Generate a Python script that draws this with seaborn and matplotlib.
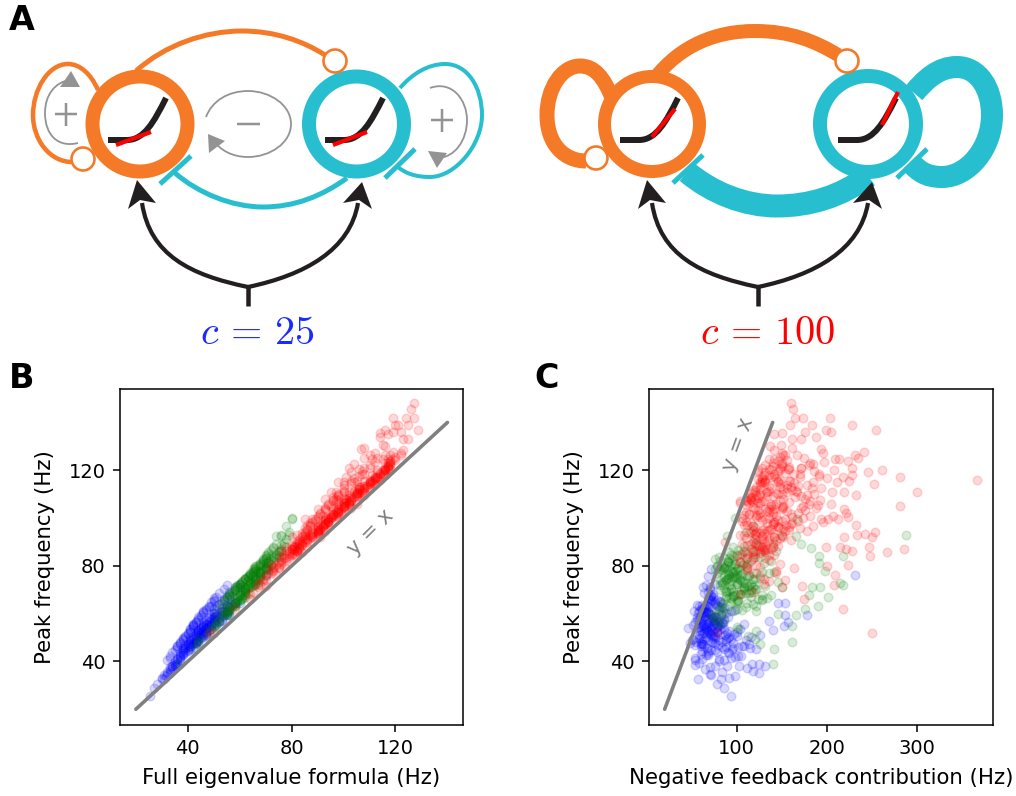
import matplotlib
matplotlib.use("Agg")
import matplotlib.pyplot as plt
import numpy as np
import seaborn as sns
from matplotlib.patches import Circle, PathPatch, Polygon
from matplotlib.path import Path

sns.set_style("ticks", rc={"axes.edgecolor": "black", "xtick.color": "black", "ytick.color": "black",
                           "axes.labelcolor": "black", "text.color": "black"})
plt.rcParams["font.family"] = ["DejaVu Sans"]
plt.rcParams["mathtext.fontset"] = "cm"

# Panels B and C share the peak frequency of each simulated network
blue_peak = [25.5, 32.6, 32.6, 34, 35, 38, 39, 39, 38, 38,
             37, 34.7, 38.6, 76, 59.6, 59.6, 64.5, 64.5, 57, 53,
             51, 45, 45.6, 54.7, 56.5, 54, 47.7, 61, 63.8, 75.7,
             71, 78.5, 40.7,
             47.3, 52.8, 58.1, 63.4, 49.6, 55.2, 60.7, 44.9, 53.5, 66.2,
             51.1, 57.4, 46.8, 61.9, 54.3, 48.7, 69.1, 43.2, 59.5, 56.6,
             50.4, 62.8, 45.5, 53.9, 58.8, 67.4, 41.6, 49.1, 55.8, 64.7,
             52.2, 47.9, 60.2, 56.1, 71.3, 42.8, 50.7, 54.7, 63.1, 46.2,
             58.4, 51.6, 65.6, 44.1, 57.8, 49.9, 61.3, 53.1, 39.4, 55.5,
             48.3, 59.9, 52.5, 68.3, 45.9, 56.9, 50.1, 62.4, 43.7, 54.1,
             60.6, 47.1, 64.1, 51.9, 57.1, 41.1, 55.1, 49.3, 66.9, 53.7,
             46.5, 58.6, 61.5, 44.5, 52.9, 50.9, 72.6, 56.4, 48.1, 63.8,
             37.4, 54.9, 59.2, 47.6, 65.1, 42.3, 51.3, 57.6, 49.5, 60.1,
             36.2, 53.3, 45.1, 62.2, 55.9, 40.2, 48.9, 58.9, 52.1, 46.9,
             50.2, 54.4, 57.3, 48.4, 52.4, 55.4, 59.1, 61.2, 46.4, 53.2,
             56.2, 49.2, 51.4, 58.2, 60.4, 47.4, 54.6, 62.6, 50.6, 55.6,
             44.4, 57.2, 52.6, 63.6, 48.6, 59.6, 42.6, 67.6, 51.8, 56.8,
             38.2, 40.9, 43.4, 35.6, 37.8, 41.9, 34.4, 30.6, 33.2, 28.8,
             53.8, 49.8, 60.8, 47.8, 55.2, 58.3, 45.3, 64.3, 51.2, 46.1,
             55.3, 60.3, 48.2, 52.7, 65.3, 68.6, 57.9, 62.1, 50.8, 45.7,
             63.2, 58.7, 53.4, 47.2, 66.4, 70.4, 60.9, 55.7, 49.4, 44.7,
             61.6, 56.3, 51.7, 46.3, 58.5, 64.9, 42.1, 53.6, 67.1, 72.1,
             49.7, 54.2, 59.4, 43.9, 62.9, 56.7, 47.7, 51.6, 65.9, 40.4,
             55.1, 48.8, 52.3, 60.5, 57.5, 46.6, 41.4, 50.3, 54.8, 63.3]
blue_full = [25.5, 30, 31, 31.5, 33, 34, 36, 35, 35, 36,
             33, 32, 35, 70, 56, 55, 60, 58, 53, 48,
             47, 41, 43, 50, 52, 47, 43, 53, 55, 65,
             60, 70, 37,
             41, 45, 48, 55, 42, 46, 55, 40, 45, 54,
             44, 47, 39, 50, 48, 44, 56, 38, 53, 46,
             45, 56, 38, 45, 49, 57, 37, 41, 47, 58,
             44, 43, 50, 50, 58, 38, 42, 49, 51, 39,
             50, 47, 54, 39, 49, 41, 55, 44, 36, 51,
             43, 50, 47, 56, 40, 50, 46, 53, 37, 47,
             53, 40, 52, 45, 52, 36, 48, 42, 55, 49,
             41, 52, 56, 40, 46, 43, 60, 48, 42, 57,
             34, 46, 51, 42, 54, 37, 46, 50, 43, 55,
             33, 47, 38, 52, 50, 35, 44, 51, 44, 40,
             43, 46, 53, 41, 47, 49, 50, 54, 41, 44,
             49, 44, 45, 52, 51, 42, 46, 56, 44, 47,
             38, 51, 44, 57, 43, 54, 37, 61, 44, 48,
             34, 36, 38, 32, 33, 37, 31, 28, 30, 27,
             47, 45, 54, 41, 47, 50, 39, 58, 46, 41,
             42, 46, 37, 41, 50, 52, 44, 47, 39, 36,
             48, 45, 41, 37, 50, 54, 46, 42, 38, 35,
             47, 43, 40, 36, 44, 49, 33, 41, 51, 55,
             38, 42, 45, 34, 48, 43, 37, 40, 50, 32,
             42, 38, 41, 46, 44, 36, 33, 39, 42, 49]
blue_neg = [94, 57, 83, 98, 125, 132, 125, 117, 103, 89,
            65, 70, 54, 231, 178, 154, 146, 154, 136, 140,
            126, 122, 115, 153, 157, 46, 48, 53, 56, 68.5,
            63, 72, 54,
            62, 68, 73, 78, 58, 74, 64, 72, 86, 70,
            71, 56, 79, 60, 66, 88, 68, 60, 83, 75,
            92, 64, 67, 76, 59, 72, 54, 80, 62, 82,
            69, 96, 57, 85, 70, 66, 74, 63, 68, 102,
            77, 61, 72, 78, 80, 90, 58, 67, 58, 84,
            55, 70, 100, 74, 84, 60, 76, 65, 91, 57,
            66, 63, 76, 89, 71, 62, 64, 94, 70, 82,
            108, 75, 80, 68, 58, 87, 76, 69, 73, 62,
            112, 79, 65, 74, 82, 105, 97, 58, 52, 88,
            118, 60, 95, 86, 75, 80, 110, 64, 67, 54,
            66, 72, 70, 62, 74, 68, 76, 66, 60, 72,
            68, 64, 70, 74, 64, 60, 78, 70, 76, 66,
            62, 60, 78, 66, 70, 72, 68, 72, 64, 80,
            76, 80, 68, 84, 70, 98, 72, 78, 92, 86,
            64, 74, 68, 76, 82, 62, 86, 70, 58, 88,
            78, 66, 84, 92, 72, 64, 86, 62, 100, 96,
            80, 90, 104, 114, 68, 70, 94, 108, 88, 76,
            98, 84, 72, 64, 56, 76, 102, 66, 74, 66,
            60, 58, 62, 90, 84, 54, 60, 82, 78, 86,
            52, 50, 78, 68, 74, 106, 94, 116, 60, 58]

green_peak = [93, 84, 84, 81, 78, 73, 72, 71, 71, 68,
              67, 63, 62, 59.6, 48, 45, 39, 55, 60, 61,
              50.5, 99.4, 92.5, 89, 87.5, 100, 92.5, 82.7, 80, 78,
              69.4, 74.2, 80.6, 64.3, 77.8, 71.1, 83.9, 66.7, 76.4, 60.9,
              72.8, 67.3, 79.2, 85.6, 62.4, 75.1, 70.2, 81.7, 57.6, 73.6,
              68.9, 78.3, 65.2, 88.2, 74.8, 71.9, 63.4, 82.8, 76.9, 59.3,
              80.1, 69.8, 66.1, 84.7, 72.2, 77.3, 61.6, 74.1, 86.9, 67.9,
              91.2, 70.8, 75.6, 64.9, 78.9, 56.4, 81.1, 68.3, 83.2, 73.2,
              65.8, 79.8, 71.6, 60.1, 76.1, 85.1, 69.1, 62.9, 74.6, 77.1,
              88.9, 67.1, 72.9, 81.9, 58.7, 75.9, 70.4, 64.6, 79.4, 83.6,
              54.2, 66.6, 73.9, 78.6, 61.1, 68.6, 71.3, 86.1, 76.6, 63.1,
              94.3, 69.6, 77.6, 74.4, 80.9, 65.6, 72.4, 59.8, 82.2, 67.6,
              75.3, 70.9, 64.1, 78.1, 68.1, 73.1, 61.9, 84.2, 66.3, 71.7,
              96.6, 52.8, 89.6, 57.1, 49.4, 53.6, 86.4, 92.8, 47.2, 55.8,
              70.6, 74.9, 78.7, 82.4, 67.2, 72.6, 76.2, 80.4, 84.4, 68.4,
              73.4, 77.4, 81.4, 69.9, 75.4, 79.7, 83.1, 66.4, 71.4, 74.7,
              78.2, 85.9, 63.9, 70.1, 76.7, 81.2, 72.1, 67.7, 75.8, 79.1,
              73.7, 69.2, 77.2, 83.4, 65.4, 71.2, 80.2, 74.3, 68.7, 86.6,
              72.3, 76.3, 78.8, 70.3, 82.1, 64.4, 74.5, 67.4, 79.9, 75.2,
              61.4, 71.8, 77.9, 69.7, 84.9, 73.3, 66.9, 80.8, 76.8, 87.7]
green_full = [76, 72, 70, 70, 69, 65, 66, 62, 64, 60,
              62, 58, 55, 56, 44, 42, 37, 51, 55, 54,
              47, 80, 74, 74, 73, 80, 76, 69, 68, 66,
              62, 66, 69, 58, 67, 60, 73, 61, 70, 55,
              64, 59, 70, 75, 56, 67, 62, 71, 52, 66,
              62, 71, 59, 77, 64, 65, 57, 72, 68, 54,
              72, 62, 59, 75, 66, 67, 56, 63, 76, 60,
              78, 62, 68, 58, 70, 51, 71, 62, 74, 64,
              60, 70, 63, 54, 66, 74, 62, 57, 68, 68,
              76, 61, 66, 73, 53, 68, 62, 59, 71, 75,
              50, 59, 67, 69, 56, 63, 64, 76, 68, 58,
              79, 61, 68, 66, 72, 60, 64, 55, 71, 62,
              68, 63, 58, 71, 60, 67, 56, 74, 61, 65,
              78, 48, 77, 52, 44, 49, 75, 79, 44, 51,
              58, 62, 65, 69, 56, 60, 64, 68, 70, 56,
              61, 65, 69, 58, 63, 66, 70, 55, 59, 62,
              66, 71, 53, 58, 64, 68, 60, 56, 63, 66,
              61, 57, 65, 70, 54, 59, 67, 62, 57, 72,
              60, 64, 66, 58, 69, 53, 62, 56, 66, 63,
              51, 59, 65, 58, 71, 61, 55, 68, 64, 73]
green_neg = [288, 218, 191, 191, 198, 215, 218, 193, 184, 180,
             202, 190, 176, 165.5, 162, 141, 140, 161, 146, 122,
             113, 167, 166, 172, 183, 98, 89, 76, 78, 80,
             92, 104, 112, 84, 98, 118, 126, 88, 106, 76,
             110, 96, 86, 132, 80, 100, 122, 90, 74, 94,
             116, 84, 102, 108, 126, 82, 90, 118, 136, 72,
             78, 105, 124, 94, 100, 142, 84, 88, 116, 128,
             120, 86, 112, 94, 100, 78, 130, 106, 92, 146,
             102, 88, 132, 86, 114, 120, 96, 110, 90, 78,
             124, 92, 108, 138, 76, 94, 120, 100, 86, 80,
             100, 134, 82, 76, 96, 114, 150, 108, 90, 122,
             110, 88, 128, 104, 98, 128, 116, 84, 82, 138,
             96, 108, 118, 90, 102, 84, 100, 96, 128, 114,
             118, 122, 140, 86, 120, 102, 144, 150, 126, 80,
             94, 90, 102, 96, 88, 100, 92, 106, 100, 104,
             86, 96, 90, 108, 98, 84, 110, 94, 112, 88,
             104, 92, 84, 116, 100, 108, 92, 98, 114, 88,
             106, 88, 96, 86, 100, 108, 94, 118, 110, 102,
             84, 104, 82, 94, 90, 112, 120, 96, 110, 86,
             106, 120, 94, 82, 104, 100, 116, 98, 122, 96]

red_peak = [148, 145.6, 141.7, 142, 142, 139, 139, 139, 137, 135,
            135.5, 136, 137, 136, 133, 134, 133, 130.5, 130, 129.5,
            129, 127.7, 126.4, 127.4, 126.4, 126.4, 124.6, 124.5, 124.5, 124,
            125, 123.5, 123, 122.5, 121, 120.4, 121, 120.4, 121, 120,
            119.4, 120, 118.6, 118, 117, 117, 116, 115, 115, 115.5,
            114.4, 115, 115.5, 115, 112.7, 111, 111, 111, 109.5, 111,
            111, 111, 107.5, 106, 105, 107, 105, 108, 104.3, 103.6,
            101, 102, 100.4, 99.4, 98.5, 99.4, 96.6, 94.5, 97, 93,
            93.3, 94, 92, 92, 88, 88, 87, 86.4, 88, 86,
            87, 84, 80.5, 80, 76, 72, 71.5, 66, 62, 52,
            90, 107, 52,
            103.4, 111.2, 96.7, 118.3, 88.6, 107.1, 99.2, 114.6, 92.4, 121.7,
            84.9, 105.8, 116.1, 94.3, 109.7, 101.6, 124.2, 90.1, 112.9, 97.8,
            86.3, 119.6, 104.2, 93.1, 110.4, 81.7, 100.3, 115.9, 95.6, 106.9,
            122.9, 89.4, 108.2, 98.4, 117.3, 91.8, 103.1, 113.1, 83.6, 101.9,
            95.2, 120.8, 106.3, 87.7, 111.7, 99.9, 116.8, 78.4, 104.9, 93.8,
            109.2, 126.3, 97.1, 85.4, 113.8, 102.4, 119.1, 90.8, 107.8, 74.6,
            100.9, 117.9, 94.9, 110.9, 88.1, 105.3, 123.1, 98.9, 82.6, 114.1,
            92.9, 108.8, 103.8, 69.2, 118.9, 96.2, 112.2, 86.8, 101.2, 121.2,
            107.4, 91.1, 115.3, 99.6, 128.4, 84.2, 105.1, 94.1, 110.1, 79.7,
            116.4, 97.4, 102.9, 89.9, 120.2, 113.4, 93.6, 106.1, 76.8, 100.6,
            111.8, 87.2, 104.6, 124.9, 98.2, 118.6, 92.1, 108.4, 83.1, 95.9,
            114.9, 101.4, 72.4, 109.9, 122.2, 90.4, 106.7, 96.9, 117.1, 86.1,
            103.9, 112.6, 127.1, 94.6, 100.1, 119.9, 88.9, 107.6, 80.9, 115.1,
            98.1, 110.6, 91.4, 105.6, 123.9, 85.1, 113.6, 102.1, 96.4, 68.1,
            108.1, 117.6, 93.3, 101.1, 120.7, 89.1, 111.1, 99.1, 77.9, 104.4,
            115.6, 95.1, 106.4, 125.6, 87.4, 109.4, 97.6, 112.1, 82.1, 102.6,
            118.1, 91.6, 105.9, 100.4, 121.9, 94.4, 110.6, 86.6, 107.2, 74.1,
            113.2, 98.6, 103.6, 116.2, 89.6, 96.1, 120.4, 108.7, 84.6, 101.7,
            111.9, 93.9, 106.2, 119.2, 99.4, 87.9, 114.2, 104.7, 92.2, 71.2,
            109.6, 117.2, 97.3, 122.6, 102.7, 85.9, 112.7, 95.4, 107.3, 79.1,
            92.3, 86.2, 97.9, 103.2, 79.4, 88.4, 95.7, 108.6, 83.9, 100.7,
            113.9, 75.7, 90.6, 105.4, 118.4, 97.2, 85.7, 110.2, 93.7, 81.4,
            102.2, 122.1, 87.1, 99.7, 115.4, 91.9, 107.9, 77.2, 104.1, 96.6,
            120.9, 89.2, 112.4, 83.3, 101.8, 94.8, 109.1, 73.6, 116.7, 86.9,
            105.7, 98.3, 125.2, 90.9, 111.4, 80.3, 103.6, 117.8, 95.3, 88.3,
            107.7, 92.6, 100.2, 114.7, 84.4, 98.7, 78.9, 109.8, 93.2, 119.6]
red_full = [127, 126, 124, 127, 119, 125, 120, 121, 128.5, 117,
            114, 119, 116, 122, 125, 114, 123, 115, 116, 108,
            106.6, 119, 118, 112, 116, 110, 117, 115, 111, 118,
            108, 112, 116, 104, 117, 106, 110, 118, 102, 115,
            103, 113, 108, 116, 112, 101, 114, 100, 110, 105,
            112, 98, 108, 104, 110, 97, 105, 100, 108, 95,
            102, 108, 98, 105, 95, 102, 100, 93, 103, 90,
            92, 99, 96, 88, 94, 85, 90, 93, 86, 82,
            90, 85, 91, 80, 86, 78, 83, 76, 81, 84,
            80, 82, 72, 77, 74, 68, 70, 64, 58, 50,
            83, 96, 48,
            97, 104, 92, 115, 83, 97, 93, 111, 88, 117,
            79, 98, 112, 88, 102, 96, 120, 86, 106, 93,
            82, 116, 96, 87, 106, 76, 95, 110, 91, 100,
            118, 83, 100, 94, 113, 85, 99, 106, 78, 96,
            90, 116, 102, 81, 106, 93, 113, 73, 99, 90,
            105, 122, 91, 80, 109, 98, 113, 86, 101, 69,
            97, 111, 90, 104, 82, 102, 117, 94, 76, 110,
            87, 104, 98, 65, 114, 92, 106, 81, 96, 117,
            103, 85, 111, 94, 123, 79, 100, 90, 105, 75,
            112, 93, 98, 85, 116, 107, 88, 102, 71, 95,
            107, 81, 100, 119, 94, 114, 88, 102, 79, 90,
            110, 97, 67, 105, 118, 84, 101, 92, 112, 82,
            98, 108, 122, 90, 94, 116, 84, 101, 76, 110,
            94, 105, 86, 101, 118, 81, 108, 98, 90, 64,
            103, 114, 88, 96, 116, 84, 107, 93, 73, 100,
            111, 91, 100, 120, 83, 105, 93, 106, 78, 97,
            115, 87, 102, 95, 117, 90, 105, 82, 103, 70,
            109, 94, 99, 112, 84, 92, 117, 103, 80, 98,
            108, 90, 100, 115, 95, 83, 110, 100, 88, 67,
            106, 113, 93, 118, 98, 82, 108, 91, 103, 75,
            84, 78, 87, 93, 73, 80, 85, 96, 76, 90,
            100, 70, 82, 94, 107, 87, 79, 98, 84, 75,
            91, 110, 80, 89, 103, 84, 97, 72, 93, 87,
            108, 82, 100, 77, 91, 86, 98, 69, 104, 80,
            94, 88, 113, 83, 100, 74, 93, 106, 86, 81,
            96, 85, 90, 103, 77, 89, 73, 98, 85, 107]
red_neg = [160, 163, 165, 174, 204, 159, 184, 228, 255, 141,
           150.7, 176, 199, 205, 171.5, 188, 162, 149, 137, 162,
           194, 241, 231, 196, 167, 154, 142, 209, 214, 224,
           235, 197, 182, 185, 228.5, 135.5, 148, 157, 172, 208.5,
           245.6, 261, 192, 228, 218, 281, 367, 185, 211, 225,
           253, 146, 159, 126, 194, 300, 205.6, 219, 233, 155.6,
           166.8, 133, 192.6, 205, 281, 181.5, 174, 115, 120.7, 219,
           207, 221, 224, 213, 196, 202, 185, 178, 233, 234,
           242.6, 254, 250, 219, 199, 215, 222, 228.5, 247, 267,
           286, 248, 224, 200, 209, 208, 173, 175, 218, 250,
           87, 103.7, 78,
           124, 136, 118, 142, 112, 130, 146, 128, 128, 150,
           106, 138, 148, 116, 126, 140, 156, 130, 122, 134,
           118, 146, 152, 108, 144, 104, 126, 132, 138, 158,
           150, 122, 116, 142, 138, 110, 134, 160, 120, 114,
           136, 128, 124, 128, 118, 106, 144, 112, 152, 130,
           134, 152, 112, 126, 156, 140, 124, 136, 120, 130,
           144, 130, 128, 120, 140, 110, 140, 150, 136, 148,
           104, 116, 132, 118, 154, 146, 126, 130, 122, 158,
           110, 128, 146, 132, 142, 100, 138, 122, 150, 126,
           128, 140, 156, 118, 148, 136, 126, 114, 144, 162,
           120, 134, 150, 136, 110, 164, 142, 124, 112, 148,
           132, 124, 130, 146, 132, 144, 118, 108, 170, 126,
           142, 156, 150, 154, 136, 124, 122, 116, 148, 130,
           116, 126, 130, 140, 146, 112, 168, 126, 120, 104,
           152, 142, 120, 108, 158, 106, 134, 128, 144, 172,
           128, 118, 126, 148, 130, 140, 160, 152, 116, 136,
           136, 148, 144, 122, 140, 134, 116, 132, 112, 154,
           148, 106, 136, 124, 120, 158, 138, 112, 142, 114,
           162, 114, 104, 132, 154, 140, 126, 118, 142, 150,
           122, 128, 140, 150, 110, 118, 138, 152, 128, 164,
           150, 120, 162, 176, 112, 146, 170, 165, 118, 182,
           178, 126, 134, 190, 170, 155, 110, 186, 140, 104,
           168, 180, 128, 194, 158, 152, 176, 118, 188, 146,
           172, 116, 184, 132, 160, 158, 172, 136, 200, 138,
           180, 142, 175, 160, 166, 122, 150, 192, 130, 126,
           148, 122, 174, 164, 136, 168, 112, 178, 120, 186]

identity_line = [20, 140]
groups = [("blue", blue_full, blue_neg, blue_peak),
          ("green", green_full, green_neg, green_peak),
          ("red", red_full, red_neg, red_peak)]

ORANGE = "#F47A27"
TEAL = "#27BFD0"
DARK = "#231F20"
GREY = "#939393"
W, H = 1016, 796
PX = 0.72  # one pixel in points at dpi 100

fig = plt.figure(figsize=(W / 100, H / 100), dpi=100)

# Schematic in panel A is drawn in pixel coordinates
sk = fig.add_axes([0, 0, 1, 1])
sk.set_xlim(0, W)
sk.set_ylim(H, 0)
sk.axis("off")


def curve(pts, color, width, dx=0):
    # pts = start, then (control, control, end) for each cubic piece
    verts = np.array(pts, dtype=float) + [dx, 0]
    codes = [Path.MOVETO] + [Path.CURVE4] * (len(verts) - 1)
    sk.add_patch(PathPatch(Path(verts, codes), fc="none", ec=color, lw=width * PX, capstyle="butt"))


def ring(x, y, color, r=47.5, width=14):
    sk.add_patch(Circle((x, y), r, fc="none", ec=color, lw=width * PX, zorder=3))


def knob(x, y):
    sk.add_patch(Circle((x, y), 11.5, fc="white", ec=ORANGE, lw=2.6 * PX, zorder=4))


def bar(a, b, color="k", width=5):
    sk.plot([a[0], b[0]], [a[1], b[1]], color=color, lw=width * PX, solid_capstyle="butt", zorder=4)


def traces(x, red_a, red_b):
    sk.plot([x, x + 20], [140, 140], color=DARK, lw=6 * PX, solid_capstyle="butt", zorder=4)
    curve([(x + 19, 140), (x + 36, 140), (x + 46, 122), (x + 58, 98)], DARK, 6)
    sk.patches[-1].set_zorder(4)
    sk.plot([red_a[0], red_b[0]], [red_a[1], red_b[1]], color="red", lw=4.2 * PX,
            solid_capstyle="butt", zorder=5)


def drive(dx):
    curve([(248, 287), (190, 275), (150, 255), (142, 203)], DARK, 4.2, dx)
    curve([(248, 287), (305, 275), (350, 250), (358, 203)], DARK, 4.2, dx)
    bar((248 + dx, 286), (248 + dx, 306), DARK, 4.5)
    for tip in ([(137, 180), (128, 209), (140, 200), (156, 203)],
                [(362, 182), (343, 203), (359, 200), (372, 209)]):
        sk.add_patch(Polygon(np.array(tip) + [dx, 0], fc=DARK, ec="none", zorder=5))


# c = 25 network
curve([(136, 71), (165, 45), (205, 31), (242, 31), (275, 31), (303, 41), (325, 55)], ORANGE, 5)
curve([(98, 90), (91, 74), (80, 64), (68, 64), (48, 64), (33, 90), (33, 115), (33, 140), (50, 162), (72, 162)],
      ORANGE, 4.5)
curve([(400, 88), (412, 74), (428, 64), (445, 64), (468, 64), (482, 88), (482, 115), (482, 145), (455, 177),
       (430, 177), (415, 177), (405, 173), (398, 167)], TEAL, 4)
curve([(347, 178), (322, 196), (295, 207), (263, 207), (232, 207), (198, 193), (175, 173)], TEAL, 5)
bar((160, 184), (191, 156), TEAL)
bar((385, 178), (415, 149), TEAL)
ring(140, 124, ORANGE)
ring(356.5, 124, TEAL)
knob(335, 61)
knob(83, 159)
traces(108, (116, 145), (151, 132))
traces(325, (333, 145), (367, 132))
drive(0)

# Grey loop arrows
curve([(78, 143), (58, 148), (45, 135), (45, 113), (45, 95), (55, 82), (70, 80)], GREY, 1.8)
curve([(206, 117), (212, 101), (228, 91), (248, 91), (270, 91), (291, 105), (291, 124), (291, 143), (270, 157),
       (248, 157), (232, 157), (220, 150), (213, 140)], GREY, 1.8)
curve([(430, 88), (452, 80), (467, 100), (467, 120), (467, 140), (455, 158), (437, 158)], GREY, 1.8)
for tri in ([(71, 71), (60, 87), (80, 87)], [(208, 134), (209, 153), (225, 141)], [(437, 168), (428, 151), (447, 153)]):
    sk.add_patch(Polygon(tri, fc=GREY, ec="none", zorder=5))
bar((55, 114), (77, 114), GREY, 2.5)
bar((66, 103), (66, 126), GREY, 2.5)
bar((431, 120), (453, 120), GREY, 2.5)
bar((442, 109), (442, 132), GREY, 2.5)
bar((237, 124), (260, 124), GREY, 2.5)

# c = 100 network
curve([(655, 78), (680, 46), (715, 31), (755, 31), (790, 31), (815, 41), (838, 55)], ORANGE, 14)
curve([(612, 98), (604, 78), (595, 66), (580, 66), (562, 66), (547, 88), (547, 115), (547, 145), (565, 161),
       (586, 161)], ORANGE, 15)
curve([(914, 93), (925, 80), (938, 67), (957, 67), (978, 67), (992, 88), (992, 115), (992, 148), (968, 177),
       (942, 177), (925, 177), (918, 170), (912, 164)], TEAL, 22)
curve([(868, 176), (842, 196), (810, 206), (777, 206), (745, 206), (712, 193), (687, 172)], TEAL, 23)
bar((673, 183), (703, 155), TEAL)
bar((897, 178), (927, 149), TEAL)
ring(652, 124, ORANGE, 47.5, 13)
ring(868, 124, TEAL, 48, 14)
knob(847, 61)
knob(596, 158)
traces(620, (652, 137), (675, 109))
traces(838, (882, 125), (898, 92))
drive(510)

sk.text(257, 333, r"$c\,=\,25$", color="#1A2BFF", fontsize=29, ha="center", va="center")
sk.text(768, 333, r"$c\,=\,100$", color="red", fontsize=29, ha="center", va="center")
sk.text(22, 20, "A", fontsize=24, fontweight="bold", ha="center", va="center")
sk.text(22, 378, "B", fontsize=24, fontweight="bold", ha="center", va="center")
sk.text(547, 378, "C", fontsize=24, fontweight="bold", ha="center", va="center")


def scatter_panel(rect, xcol, xlabel, xticks, xlim, note_xy, note_rot):
    ax = fig.add_axes(rect)
    for color, full, neg, peak in groups:
        xs = full if xcol == "full" else neg
        sns.scatterplot(x=xs, y=peak, color=color, edgecolor=color, alpha=0.15, s=38, linewidth=1.1, ax=ax)
    ax.plot(identity_line, identity_line, color="gray", lw=2.6)
    ax.text(note_xy[0], note_xy[1], "y = x", color="gray", fontsize=15, rotation=note_rot, ha="center", va="center")
    ax.set_xlim(xlim)
    ax.set_ylim(13.4, 154)
    ax.set_xticks(xticks)
    ax.set_yticks([40, 80, 120])
    ax.tick_params(labelsize=14, length=5, width=1.1, pad=5)
    ax.set_xlabel(xlabel, fontsize=15.3, labelpad=7)
    ax.set_ylabel("Peak frequency (Hz)", fontsize=15.3, labelpad=10)
    for s in ax.spines.values():
        s.set_linewidth(1.1)
    return ax


def rect(left, right):
    return [left / W, 1 - 725 / H, (right - left) / W, (725 - 389) / H]


scatter_panel(rect(119.5, 463), "full", "Full eigenvalue formula (Hz)", [40, 80, 120], (13.7, 146), (110.5, 94), 45)
scatter_panel(rect(649, 993), "neg", "Negative feedback contribution (Hz)", [100, 200, 300], (2.6, 384.8), (102, 131), 70)

plt.savefig("out.png", dpi=100)
